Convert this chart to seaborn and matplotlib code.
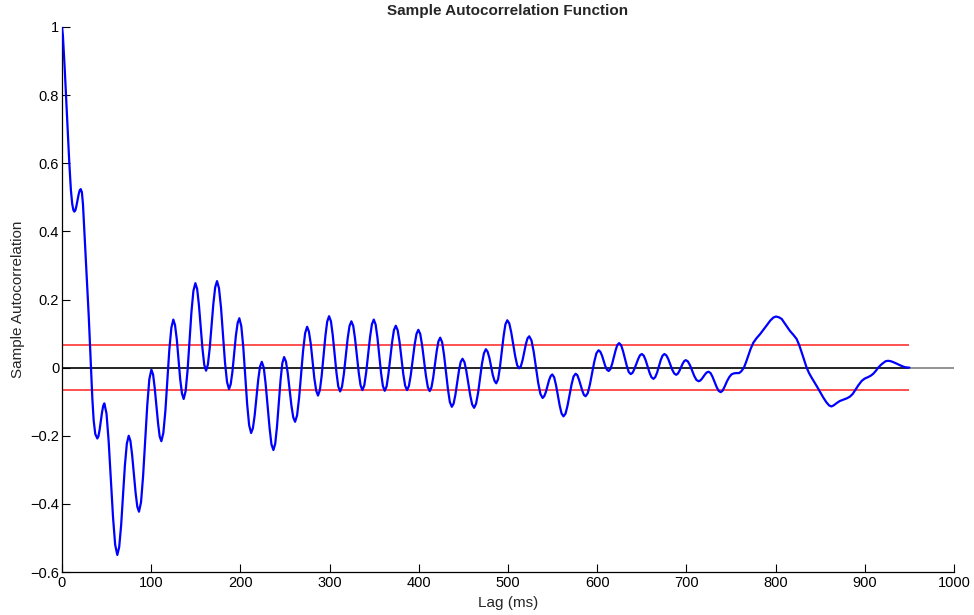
import matplotlib
matplotlib.use("Agg")
import matplotlib.pyplot as plt
import seaborn as sns
import pandas as pd

# ---- data ----
lags = [
    0, 1, 2, 3, 4.5, 6.3, 8.2, 10, 11.5, 12.7, 13.8,
    15.0, 16.2, 17.4, 18.6, 19.8, 21.0,
    22.3, 23.5, 24.5, 25.5, 27.0, 28.5, 30.0, 31.3, 32.5, 34.0, 35.5, 37.3, 39.6,
    40.9, 42.2, 43.55, 44.9, 46.2, 47.5,
    49.9, 52.3, 54.75, 57.2, 59.6, 62.0,
    64.1, 66.3, 68.4, 70.5, 72.7, 74.8,
    76.7, 78.6, 80.55, 82.5, 84.4, 86.3,
    88.6, 90.9, 93.25, 95.6, 97.9, 100.2,
    102.1, 103.9, 105.8, 107.7, 109.5, 111.4,
    113.6, 115.9, 118.1, 120.3, 122.6, 124.8,
    126.7, 128.7, 130.6, 132.5, 134.5, 136.4,
    138.6, 140.8, 142.95, 145.1, 147.3, 149.5,
    151.5, 153.5, 155.5, 157.5, 159.5, 161.5,
    163.55, 165.6, 167.65, 169.7, 171.75, 173.8,
    176.0, 178.3, 180.5, 182.7, 185.0, 187.2,
    189.1, 191.1, 193.0, 194.9, 196.9, 198.8,
    201.0, 203.2, 205.4, 207.6, 209.8, 212.0,
    214, 216, 218, 220, 222, 224.0,
    226.2, 228.3, 230.5, 232.7, 234.8, 237.0,
    239, 241, 243, 245, 247, 249.0,
    251.05, 253.1, 255.15, 257.2, 259.25, 261.3,
    263.55, 265.8, 268.05, 270.3, 272.55, 274.8,
    276.8, 278.9, 280.9, 282.9, 285.0, 287.0,
    289.1, 291.1, 293.2, 295.3, 297.3, 299.4,
    301.5, 303.5, 305.6, 307.7, 309.7, 311.8,
    313.9, 316.0, 318.1, 320.2, 322.3, 324.4,
    326.5, 328.5, 330.6, 332.7, 334.7, 336.8,
    338.9, 341.0, 343.15, 345.3, 347.4, 349.5,
    351.55, 353.6, 355.65, 357.7, 359.75, 361.8,
    363.9, 365.9, 368.0, 370.1, 372.1, 374.2,
    376.3, 378.4, 380.5, 382.6, 384.7, 386.8,
    388.9, 391.0, 393.15, 395.3, 397.4, 399.5,
    401.6, 403.7, 405.85, 408.0, 410.1, 412.2,
    414.2, 416.1, 418.1, 420.1, 422.0, 424.0,
    426.2, 428.3, 430.5, 432.7, 434.8, 437.0,
    439, 441, 443, 445, 447, 449.0,
    451.2, 453.3, 455.5, 457.7, 459.8, 462.0,
    464.2, 466.4, 468.6, 470.8, 473.0, 475.2,
    477.1, 479.1, 481.0, 482.9, 484.9, 486.8,
    488.9, 490.9, 493.0, 495.1, 497.1, 499.2,
    501.4, 503.6, 505.85, 508.1, 510.3, 512.5,
    514.4, 516.3, 518.15, 520.0, 521.9, 523.8,
    526.3, 528.8, 531.3, 533.8, 536.3, 538.8,
    540.6, 542.4, 544.2, 546.0, 547.8, 549.6,
    551.7, 553.8, 555.9, 558.0, 560.1, 562.2,
    564.5, 566.7, 569.0, 571.3, 573.5, 575.8,
    577.7, 579.5, 581.4, 583.3, 585.1, 587.0,
    589.4, 591.8, 594.25, 596.7, 599.1, 601.5,
    603.4, 605.3, 607.15, 609.0, 610.9, 612.8,
    614.8, 616.7, 618.7, 620.7, 622.6, 624.6,
    626.8, 628.9, 631.1, 633.3, 635.4, 637.6,
    639.7, 641.7, 643.8, 645.9, 647.9, 650.0,
    652.2, 654.3, 656.5, 658.7, 660.8, 663.0,
    665.05, 667.1, 669.15, 671.2, 673.25, 675.3,
    677.5, 679.7, 681.9, 684.1, 686.3, 688.5,
    690.3, 692.1, 693.9, 695.7, 697.5, 699.3,
    701.7, 704.1, 706.45, 708.8, 711.2, 713.6,
    715.5, 717.3, 719.2, 721.1, 722.9, 724.8,
    727.1, 729.3, 731.6, 733.9, 736.1, 738.4,
    740.5, 743, 745.5, 748, 750.5, 753, 756, 759, 761.5, 764.5,
    767, 769.5, 772, 775, 778.5, 782.5, 786, 790, 794, 797.5,
    800.4, 803.5, 806.8, 811, 816, 820, 823.6, 826.5, 829.2, 832,
    834.8, 837.5, 840.5, 843.5, 846.5, 850, 853.5, 857, 860, 862.5,
    865, 868.5, 872, 876, 880, 883.4, 886.5, 889.5, 893, 896.5,
    900, 903.5, 906.5, 909.5, 912.5, 915.1, 918, 920.8, 923.5, 926,
    929, 932, 935.5, 939.5, 944, 947, 950,
]

acf = [
    1.0, 0.975, 0.93, 0.88, 0.80, 0.70, 0.60, 0.52, 0.48, 0.463, 0.458,
    0.462, 0.475, 0.491, 0.508, 0.520, 0.524,
    0.515, 0.48, 0.43, 0.38, 0.30, 0.23, 0.15, 0.07, 0.0, -0.09, -0.155, -0.195, -0.208,
    -0.201, -0.182, -0.157, -0.131, -0.112, -0.105,
    -0.135, -0.216, -0.3275, -0.439, -0.520, -0.550,
    -0.527, -0.4625, -0.375, -0.2875, -0.223, -0.200,
    -0.215, -0.256, -0.3115, -0.367, -0.408, -0.423,
    -0.395, -0.319, -0.2145, -0.110, -0.034, -0.006,
    -0.020, -0.0585, -0.111, -0.1635, -0.202, -0.216,
    -0.192, -0.127, -0.0375, 0.052, 0.117, 0.141,
    0.125, 0.083, 0.0245, -0.034, -0.076, -0.092,
    -0.069, -0.007, 0.078, 0.163, 0.225, 0.248,
    0.231, 0.184, 0.1195, 0.055, 0.008, -0.009,
    0.009, 0.057, 0.1225, 0.188, 0.236, 0.254,
    0.233, 0.175, 0.0955, 0.016, -0.042, -0.063,
    -0.049, -0.011, 0.041, 0.093, 0.131, 0.145,
    0.122, 0.061, -0.0235, -0.108, -0.169, -0.192,
    -0.178, -0.140, -0.0875, -0.035, 0.003, 0.017,
    0.000, -0.048, -0.1125, -0.177, -0.225, -0.242,
    -0.224, -0.174, -0.1055, -0.037, 0.013, 0.031,
    0.018, -0.0165, -0.064, -0.1115, -0.146, -0.159,
    -0.140, -0.089, -0.0195, 0.050, 0.101, 0.120,
    0.106, 0.0695, 0.019, -0.0315, -0.068, -0.082,
    -0.066, -0.024, 0.0345, 0.093, 0.135, 0.151,
    0.136, 0.096, 0.0405, -0.015, -0.055, -0.070,
    -0.056, -0.0185, 0.033, 0.0845, 0.122, 0.136,
    0.1225, 0.0855, 0.035, -0.0155, -0.052, -0.066,
    -0.052, -0.014, 0.0375, 0.089, 0.127, 0.141,
    0.127, 0.0888, 0.0365, -0.016, -0.054, -0.068,
    -0.055, -0.020, 0.0275, 0.075, 0.110, 0.123,
    0.110, 0.076, 0.0285, -0.019, -0.053, -0.066,
    -0.054, -0.022, 0.0225, 0.067, 0.099, 0.111,
    0.099, 0.066, 0.021, -0.024, -0.057, -0.069,
    -0.058, -0.030, 0.0095, 0.049, 0.077, 0.088,
    0.074, 0.037, -0.0135, -0.064, -0.101, -0.115,
    -0.106, -0.080, -0.0445, -0.009, 0.017, 0.026,
    0.016, -0.010, -0.046, -0.082, -0.108, -0.118,
    -0.106, -0.075, -0.032, 0.011, 0.042, 0.054,
    0.047, 0.029, 0.004, -0.021, -0.039, -0.046,
    -0.034, 0.000, 0.0465, 0.093, 0.127, 0.139,
    0.130, 0.104, 0.0685, 0.033, 0.007, -0.002,
    0.004, 0.0215, 0.045, 0.0685, 0.086, 0.092,
    0.080, 0.047, 0.0015, -0.044, -0.077, -0.089,
    -0.084, -0.072, -0.0545, -0.037, -0.025, -0.020,
    -0.028, -0.051, -0.0815, -0.112, -0.135, -0.143,
    -0.135, -0.112, -0.0805, -0.049, -0.026, -0.018,
    -0.022, -0.0345, -0.051, -0.0675, -0.080, -0.084,
    -0.075, -0.050, -0.0165, 0.017, 0.042, 0.051,
    0.047, 0.036, 0.0205, 0.005, -0.006, -0.010,
    -0.0045, 0.0105, 0.031, 0.0515, 0.0665, 0.072,
    0.066, 0.049, 0.0265, 0.004, -0.013, -0.019,
    -0.015, -0.004, 0.0105, 0.025, 0.036, 0.040,
    0.035, 0.022, 0.0035, -0.015, -0.028, -0.033,
    -0.028, -0.015, 0.0035, 0.022, 0.035, 0.040,
    0.036, 0.025, 0.0095, -0.006, -0.017, -0.021,
    -0.018, -0.010, 0.0005, 0.011, 0.019, 0.022,
    0.018, 0.0065, -0.009, -0.0245, -0.036, -0.040,
    -0.038, -0.033, -0.026, -0.019, -0.014, -0.012,
    -0.016, -0.027, -0.042, -0.057, -0.068, -0.072,
    -0.068, -0.055, -0.040, -0.028, -0.020, -0.017, -0.016, -0.016, -0.011, 0.0,
    0.017, 0.036, 0.055, 0.073, 0.086, 0.098, 0.110, 0.124, 0.138, 0.147,
    0.150, 0.148, 0.143, 0.127, 0.108, 0.096, 0.084, 0.066, 0.045, 0.022,
    0.0, -0.016, -0.030, -0.043, -0.056, -0.072, -0.088, -0.102, -0.111, -0.114,
    -0.111, -0.104, -0.098, -0.094, -0.090, -0.085, -0.077, -0.065, -0.051, -0.039,
    -0.032, -0.028, -0.024, -0.018, -0.009, 0.0, 0.008, 0.014, 0.019, 0.020,
    0.019, 0.016, 0.012, 0.007, 0.002, 0.0005, 0.0,
]

conf_bound = 0.065          # +/- confidence bound
max_lag = 950
x_limits = (0, 1000)
y_limits = (-0.6, 1.0)
x_ticks = [0, 100, 200, 300, 400, 500, 600, 700, 800, 900, 1000]
y_ticks = [-0.6, -0.4, -0.2, 0, 0.2, 0.4, 0.6, 0.8, 1.0]
y_tick_labels = ["\u22120.6", "\u22120.4", "\u22120.2", "0", "0.2", "0.4", "0.6", "0.8", "1"]
title_text = "Sample Autocorrelation Function"
x_label = "Lag (ms)"
y_label = "Sample Autocorrelation"

# ---- styling ----
sns.set_theme(style="white")
plt.rcParams["font.family"] = ["Liberation Sans", "DejaVu Sans"]

W, H = 974, 615
fig = plt.figure(figsize=(W / 100, H / 100), dpi=100)
ax = fig.add_axes([62 / W, 1 - 572 / H, (954 - 62) / W, (572 - 27) / H])

df = pd.DataFrame({"lag": lags, "acf": acf})

# zero line and confidence bounds
ax.hlines(0, max_lag, x_limits[1], colors="#808080", linewidth=1.2, zorder=1)
ax.hlines(0, x_limits[0], max_lag, colors="black", linewidth=1.2, zorder=2)
ax.hlines([conf_bound, -conf_bound], x_limits[0], max_lag, colors="#ff2020",
          linewidth=1.1, zorder=2)

sns.lineplot(data=df, x="lag", y="acf", ax=ax, color="#0000ff", linewidth=1.6,
             estimator=None, sort=False, zorder=3)

ax.set_xlim(*x_limits)
ax.set_ylim(*y_limits)
ax.set_xticks(x_ticks)
ax.set_xticklabels([str(t) for t in x_ticks])
ax.set_yticks(y_ticks)
ax.set_yticklabels(y_tick_labels)

for side in ("top", "right"):
    ax.spines[side].set_visible(False)
for side in ("left", "bottom"):
    ax.spines[side].set_color("black")
    ax.spines[side].set_linewidth(0.9)

ax.tick_params(axis="both", direction="in", length=6, width=0.8, colors="black",
               labelsize=10.5, pad=3, left=True, bottom=True)
ax.tick_params(axis="y", pad=2)

ax.set_title(title_text, fontsize=11, fontweight="bold", pad=9)
ax.set_xlabel(x_label, fontsize=11, labelpad=4)
ax.set_ylabel(y_label, fontsize=11, labelpad=4)
ax.grid(False)

fig.savefig("out.png", dpi=100)
